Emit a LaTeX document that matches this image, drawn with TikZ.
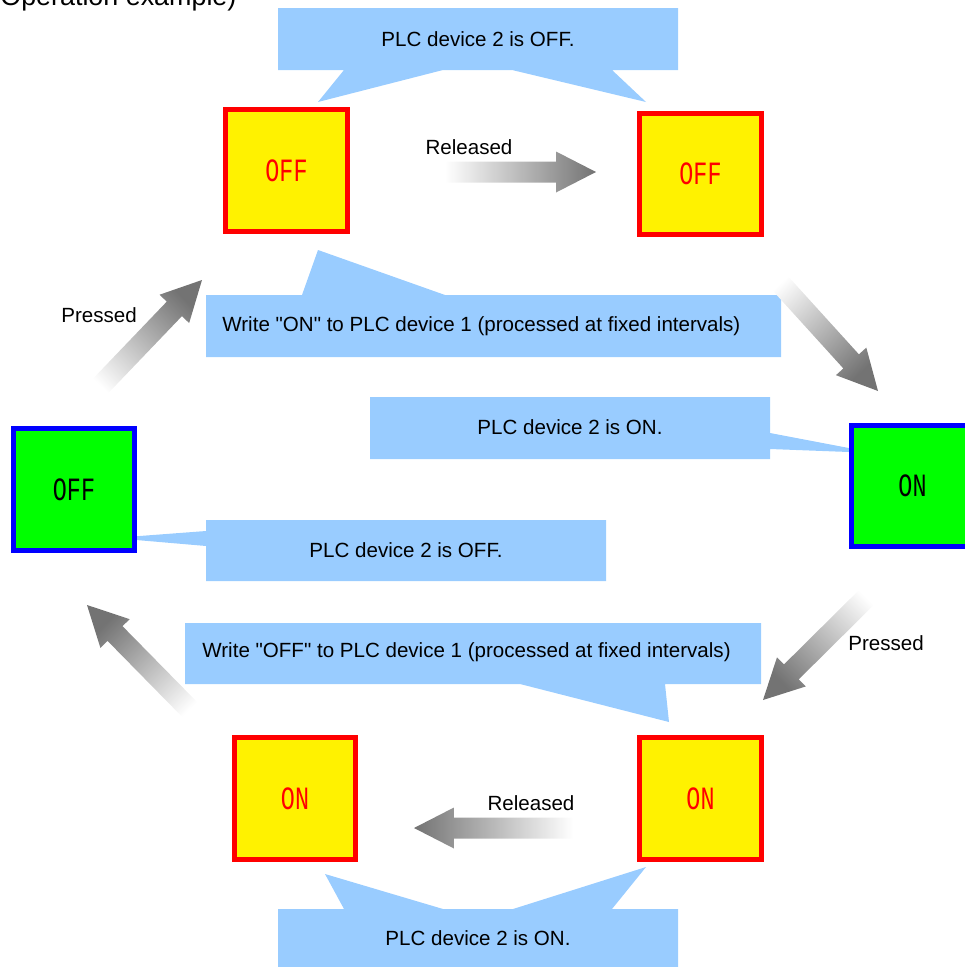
\documentclass[tikz,border=0pt]{standalone}
\usepackage{fontspec}
\usepackage{graphicx}
\setmainfont{Liberation Sans}[Ligatures=TeXOff]
\newfontfamily\swfont{Liberation Mono}
\usetikzlibrary{calc}
\definecolor{bubble}{HTML}{99CCFF}

% pixel-font look of the switch caption
\newcommand{\swtext}[1]{\scalebox{0.72}[1]{#1}}

% shaded block arrow from a tail coordinate to a tip coordinate
\newcommand{\flowarrow}[2]{%
  \coordinate (#1h) at ($(#2)!0.8cm!(#1)$);
  \pgfmathanglebetweenpoints{\pgfpointanchor{#1}{center}}{\pgfpointanchor{#2}{center}}%
  \pgfmathsetmacro{\flowang}{\pgfmathresult-90}%
  \shade[top color=black!55, middle color=black!18, bottom color=white, shading angle=\flowang]
    ($(#1)!0.21cm!90:(#2)$) -- ($(#1h)!0.21cm!90:(#2)$) -- ($(#1h)!0.41cm!90:(#2)$)
    -- (#2) -- ($(#1h)!0.41cm!-90:(#2)$) -- ($(#1h)!0.21cm!-90:(#2)$)
    -- ($(#1)!0.21cm!-90:(#2)$) -- cycle;}

\begin{document}
\begin{tikzpicture}[x=0.02cm, y=-0.02cm,
  msg/.style={inner sep=0, font=\fontsize{11.7pt}{14pt}\selectfont},
  sw/.style={draw, line width=0.1cm, minimum size=2.44cm, inner sep=0,
    font=\swfont\fontsize{18.5pt}{20pt}\selectfont},
  yellowsw/.style={sw, fill=yellow, draw=red, text=red},
  greensw/.style={sw, fill=green, draw=blue, text=black}]
  \useasboundingbox (0,0) rectangle (964,967);

  % balloons
  \fill[bubble] (278,8) -- (678,8) -- (678,70) -- (612,70) -- (646,102) -- (512,70)
    -- (443,70) -- (318,102) -- (344,70) -- (278,70) -- cycle;
  \fill[bubble] (206,295) -- (302,295) -- (318,250) -- (445,295) -- (781,295)
    -- (781,357) -- (206,357) -- cycle;
  \fill[bubble] (370,397) -- (770,397) -- (770,433) -- (875,453) -- (770,449)
    -- (770,459) -- (370,459) -- cycle;
  \fill[bubble] (206,520) -- (606,520) -- (606,581) -- (206,581) -- (206,546)
    -- (113,538) -- (206,531) -- cycle;
  \fill[bubble] (185,623) -- (761,623) -- (761,684) -- (665,684) -- (669,722)
    -- (520,684) -- (185,684) -- cycle;
  \fill[bubble] (278,909) -- (344,909) -- (325,874) -- (443,909) -- (513,909)
    -- (646,867) -- (612,909) -- (678,909) -- (678,971) -- (278,971) -- cycle;

  % switches
  \node[yellowsw] (sw1) at (286.5,170.5) {\swtext{OFF}};
  \node[yellowsw] (sw2) at (700.5,174) {\swtext{OFF}};
  \node[greensw] (sw3) at (912.5,486) {\swtext{ON}};
  \node[yellowsw] (sw4) at (700.5,798.5) {\swtext{ON}};
  \node[yellowsw] (sw5) at (295,798.5) {\swtext{ON}};
  \node[greensw] (sw6) at (74,489.5) {\swtext{OFF}};

  % arrows
  \coordinate (a1) at (445,172);  \coordinate (b1) at (596,172);
  \coordinate (a2) at (770,272);  \coordinate (b2) at (878,391);
  \coordinate (a3) at (877,587);  \coordinate (b3) at (763,700);
  \coordinate (a4) at (573,828);  \coordinate (b4) at (414,828);
  \coordinate (a5) at (200,720);  \coordinate (b5) at (87,605);
  \coordinate (a6) at (90,397);   \coordinate (b6) at (202,280);
  \flowarrow{a1}{b1}
  \flowarrow{a2}{b2}
  \flowarrow{a3}{b3}
  \flowarrow{a4}{b4}
  \flowarrow{a5}{b5}
  \flowarrow{a6}{b6}

  % texts
  \node[msg, anchor=base west, font=\fontsize{15.3pt}{18pt}\selectfont] (title) at (0,5) {Operation example)};
  \node[msg] (m1) at (478,39) {PLC device 2 is OFF.};
  \node[msg, anchor=west] (m2) at (222,326) {Write "ON" to PLC device 1 (processed at fixed intervals)};
  \node[msg] (m3) at (570,427) {PLC device 2 is ON.};
  \node[msg] (m4) at (406,550) {PLC device 2 is OFF.};
  \node[msg, anchor=west] (m5) at (202,652) {Write "OFF" to PLC device 1 (processed at fixed intervals)};
  \node[msg] (m6) at (478,938) {PLC device 2 is ON.};
  \node[msg] (l1) at (469,147) {Released};
  \node[msg] (l2) at (886,643) {Pressed};
  \node[msg] (l3) at (531,803) {Released};
  \node[msg] (l4) at (99,315) {Pressed};
\end{tikzpicture}
\end{document}
